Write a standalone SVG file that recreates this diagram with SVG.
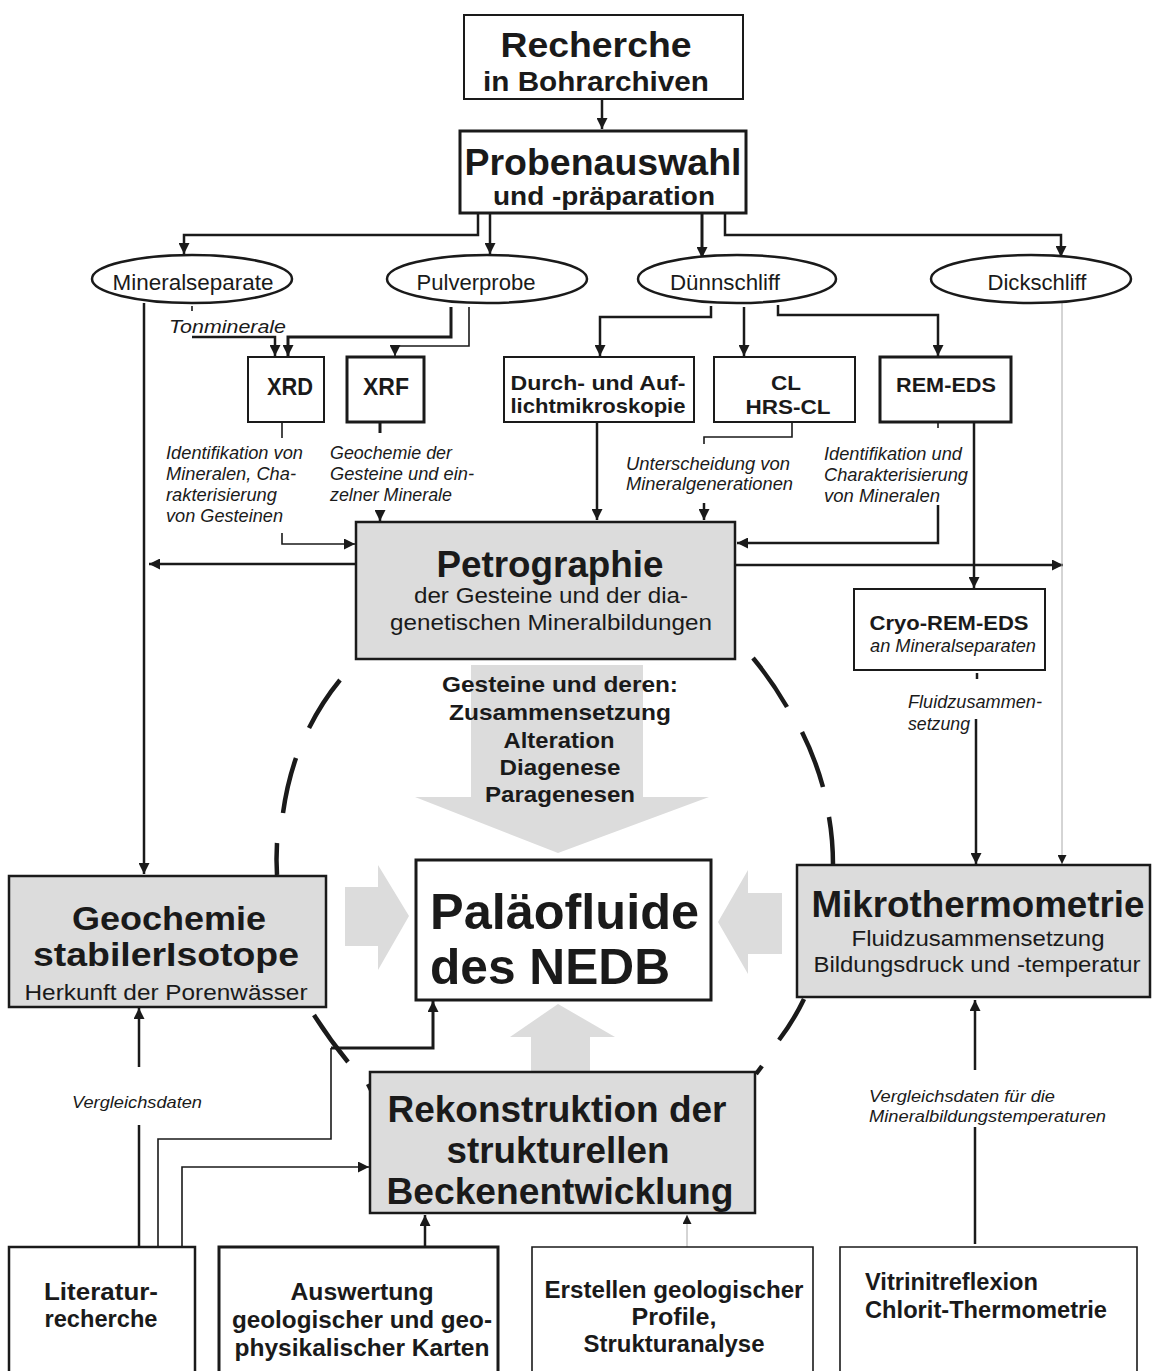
<svg xmlns="http://www.w3.org/2000/svg" width="1154" height="1371" viewBox="0 0 1154 1371">
<style>
text{font-family:"Liberation Sans",Arial,sans-serif;fill:#1a1a1a}
.b{font-weight:bold}
.i{font-style:italic}
.m{text-anchor:middle}
.box{fill:#fff;stroke:#1a1a1a;stroke-width:2}
.bx3{fill:#fff;stroke:#1a1a1a;stroke-width:3}
.gbox{fill:#dcdcdc;stroke:#1a1a1a;stroke-width:2.5}
.ell{fill:#fff;stroke:#1a1a1a;stroke-width:2.5}
.c{fill:none;stroke:#1a1a1a;stroke-width:2.5}
.c3{fill:none;stroke:#1a1a1a;stroke-width:3}
.cn{fill:none;stroke:#1a1a1a;stroke-width:1.6}
.t{fill:none;stroke:#aaa;stroke-width:1}
.dash{fill:none;stroke:#1a1a1a;stroke-width:4.5}
.ga{fill:#dcdcdc}
.n{font-size:18px;font-style:italic}
.bt{font-size:23px;font-weight:bold}
</style>
<defs>
<marker id="a" viewBox="0 0 10 10" refX="10" refY="5" markerWidth="11" markerHeight="11" markerUnits="userSpaceOnUse" orient="auto"><path d="M0,0 L10,5 L0,10 z" fill="#1a1a1a"/></marker>
<marker id="s" viewBox="0 0 10 10" refX="10" refY="5" markerWidth="9" markerHeight="9" markerUnits="userSpaceOnUse" orient="auto"><path d="M0,0 L10,5 L0,10 z" fill="#1a1a1a"/></marker>
</defs>
<rect width="1154" height="1371" fill="#fff"/>

<g id="grayarrows">
<path class="ga" d="M471,665 H643 V797 H709 L558,853 L415,797 H471 Z"/>
<path class="ga" d="M345,887 H378 V865 L409,916 L378,970 V946 H345 Z"/>
<path class="ga" d="M782,893 H748 V870 L718,922 L748,974 V954 H782 Z"/>
<path class="ga" d="M531,1072 V1037 H510 L558,1004 L615,1037 H590 V1072 Z"/>
</g>

<g id="dashedcircle">
<path class="dash" d="M340,680 Q322,702 309,728"/>
<path class="dash" d="M296,758 Q287,784 283,813"/>
<path class="dash" d="M277,843 Q276,860 277,875"/>
<path class="dash" d="M314,1015 Q330,1040 348,1062"/>
<path class="dash" d="M753,658 Q772,681 787,707"/>
<path class="dash" d="M802,732 Q815,758 823,787"/>
<path class="dash" d="M829,817 Q833,840 833,865"/>
<path class="dash" d="M804,999 Q794,1020 779,1040"/>
<path class="dash" d="M762,1066 L756,1074"/>
<path class="dash" d="M368,1084 L371,1090"/>
</g>

<g id="connectors">
<path class="c" d="M602,99 V129" marker-end="url(#a)"/>
<path class="c" d="M478,213 V235 H184 V254" marker-end="url(#a)"/>
<path class="c" d="M490,213 V254" marker-end="url(#a)"/>
<path class="c3" d="M702,213 V258" marker-end="url(#a)"/>
<path class="c" d="M725,213 V235 H1061 V257" marker-end="url(#a)"/>
<path class="c" d="M144,303 V874" marker-end="url(#a)"/>
<path class="cn" d="M192,306 V311"/>
<path class="c" d="M192,337 H275 V356" marker-end="url(#a)"/>
<path class="c3" d="M451,307 V337 H288 V356" marker-end="url(#a)"/>
<path class="cn" d="M469,307 V346 H395 V356" marker-end="url(#a)"/>
<path class="c" d="M711,306 V317 H600 V356" marker-end="url(#a)"/>
<path class="c" d="M744,307 V356" marker-end="url(#a)"/>
<path class="c" d="M778,305 V315 H938 V356" marker-end="url(#a)"/>
<path class="cn" d="M282,422 V438"/>
<path class="cn" d="M282,533 V544 H355" marker-end="url(#a)"/>
<path class="c3" d="M380,422 V433"/>
<path class="c" d="M380,510 V521" marker-end="url(#a)"/>
<path class="c" d="M597,422 V520" marker-end="url(#a)"/>
<path class="cn" d="M792,422 V437 H704 V444"/>
<path class="c" d="M704,503 V520" marker-end="url(#a)"/>
<path class="cn" d="M938,422 V428"/>
<path class="c" d="M938,505 V543 H737" marker-end="url(#a)"/>
<path class="c" d="M974,423 V588" marker-end="url(#a)"/>
<path class="c" d="M356,564 H149" marker-end="url(#a)"/>
<path class="c" d="M735,565 H1063" marker-end="url(#a)"/>
<path class="c" d="M977,673 V679"/>
<path class="c" d="M976,719 V864" marker-end="url(#a)"/>
<path class="t" d="M1062,303 V864" marker-end="url(#s)"/>
<path class="c" d="M139,1067 V1008" marker-end="url(#a)"/>
<path class="c" d="M139,1125 V1247"/>
<path class="cn" d="M158,1247 V1139 H331 V1048"/>
<path class="c3" d="M331,1048 H433 V1001" marker-end="url(#a)"/>
<path class="cn" d="M182,1247 V1167 H369" marker-end="url(#a)"/>
<path class="c" d="M425,1247 V1215" marker-end="url(#a)"/>
<path class="t" d="M687,1247 V1215" marker-end="url(#s)"/>
<path class="c" d="M975,1244 V1127"/>
<path class="c" d="M975,1070 V1000" marker-end="url(#a)"/>
</g>

<g id="recherche">
<rect class="box" x="464" y="15" width="279" height="84"/>
<text class="b m" x="596" y="57" font-size="35" textLength="191" lengthAdjust="spacingAndGlyphs">Recherche</text>
<text class="b m" x="596" y="91" font-size="27" textLength="226" lengthAdjust="spacingAndGlyphs">in Bohrarchiven</text>
</g>

<g id="probenauswahl">
<rect class="bx3" x="460" y="131" width="286" height="82"/>
<text class="b m" x="603" y="175" font-size="37" textLength="277" lengthAdjust="spacingAndGlyphs">Probenauswahl</text>
<text class="b m" x="604" y="205" font-size="26" textLength="222" lengthAdjust="spacingAndGlyphs">und -präparation</text>
</g>

<g id="mineralseparate">
<ellipse class="ell" cx="192" cy="279" rx="100" ry="24"/>
<text class="m" x="193" y="290" font-size="22" textLength="161" lengthAdjust="spacingAndGlyphs">Mineralseparate</text>
</g>
<g id="pulverprobe">
<ellipse class="ell" cx="487" cy="279" rx="100" ry="24"/>
<text class="m" x="476" y="290" font-size="22" textLength="119" lengthAdjust="spacingAndGlyphs">Pulverprobe</text>
</g>
<g id="duennschliff">
<ellipse class="ell" cx="737" cy="279" rx="99" ry="24"/>
<text class="m" x="725" y="290" font-size="22" textLength="110" lengthAdjust="spacingAndGlyphs">Dünnschliff</text>
</g>
<g id="dickschliff">
<ellipse class="ell" cx="1031" cy="279" rx="100" ry="24"/>
<text class="m" x="1037" y="290" font-size="22" textLength="99" lengthAdjust="spacingAndGlyphs">Dickschliff</text>
</g>

<g id="tonminerale">
<text class="i" x="169" y="333" font-size="19" textLength="117" lengthAdjust="spacingAndGlyphs">Tonminerale</text>
</g>

<g id="xrd">
<rect class="box" x="248" y="357" width="76" height="65"/>
<text class="b m" x="290" y="395" font-size="24" textLength="46" lengthAdjust="spacingAndGlyphs">XRD</text>
</g>
<g id="xrf">
<rect class="bx3" x="347" y="357" width="77" height="65"/>
<text class="b m" x="386" y="395" font-size="24" textLength="46" lengthAdjust="spacingAndGlyphs">XRF</text>
</g>
<g id="mikroskopie">
<rect class="box" x="504" y="357" width="190" height="65"/>
<text class="b m" x="598" y="390" font-size="20.5" textLength="175" lengthAdjust="spacingAndGlyphs">Durch- und Auf-</text>
<text class="b m" x="598" y="413" font-size="20.5" textLength="175" lengthAdjust="spacingAndGlyphs">lichtmikroskopie</text>
</g>
<g id="cl">
<rect class="box" x="714" y="357" width="141" height="65"/>
<text class="b m" x="786" y="390" font-size="20.5" textLength="30" lengthAdjust="spacingAndGlyphs">CL</text>
<text class="b m" x="788" y="414" font-size="20.5" textLength="85" lengthAdjust="spacingAndGlyphs">HRS-CL</text>
</g>
<g id="remeds">
<rect class="bx3" x="880" y="357" width="131" height="65"/>
<text class="b m" x="946" y="392" font-size="20.5" textLength="100" lengthAdjust="spacingAndGlyphs">REM-EDS</text>
</g>

<g id="labels-xrd">
<text class="n" x="166" y="459" textLength="137" lengthAdjust="spacingAndGlyphs">Identifikation von</text>
<text class="n" x="166" y="480" textLength="130" lengthAdjust="spacingAndGlyphs">Mineralen, Cha-</text>
<text class="n" x="166" y="501" textLength="111" lengthAdjust="spacingAndGlyphs">rakterisierung</text>
<text class="n" x="166" y="522" textLength="117" lengthAdjust="spacingAndGlyphs">von Gesteinen</text>
</g>
<g id="labels-xrf">
<text class="n" x="330" y="459" textLength="122" lengthAdjust="spacingAndGlyphs">Geochemie der</text>
<text class="n" x="330" y="480" textLength="144" lengthAdjust="spacingAndGlyphs">Gesteine und ein-</text>
<text class="n" x="330" y="501" textLength="122" lengthAdjust="spacingAndGlyphs">zelner Minerale</text>
</g>
<g id="labels-cl">
<text class="n" x="626" y="470" textLength="164" lengthAdjust="spacingAndGlyphs">Unterscheidung von</text>
<text class="n" x="626" y="490" textLength="167" lengthAdjust="spacingAndGlyphs">Mineralgenerationen</text>
</g>
<g id="labels-rem">
<text class="n" x="824" y="460" textLength="138" lengthAdjust="spacingAndGlyphs">Identifikation und</text>
<text class="n" x="824" y="481" textLength="144" lengthAdjust="spacingAndGlyphs">Charakterisierung</text>
<text class="n" x="824" y="502" textLength="116" lengthAdjust="spacingAndGlyphs">von Mineralen</text>
</g>

<g id="petrographie">
<rect class="gbox" x="356" y="522" width="379" height="137"/>
<text class="b m" x="550" y="577" font-size="36" textLength="227" lengthAdjust="spacingAndGlyphs">Petrographie</text>
<text class="m" x="551" y="603" font-size="22.5" textLength="274" lengthAdjust="spacingAndGlyphs">der Gesteine und der dia-</text>
<text class="m" x="551" y="630" font-size="22.5" textLength="322" lengthAdjust="spacingAndGlyphs">genetischen Mineralbildungen</text>
</g>

<g id="cryo">
<rect class="box" x="854" y="589" width="191" height="81"/>
<text class="b m" x="949" y="630" font-size="20.5" textLength="159" lengthAdjust="spacingAndGlyphs">Cryo-REM-EDS</text>
<text class="i m" x="953" y="652" font-size="18.5" textLength="166" lengthAdjust="spacingAndGlyphs">an Mineralseparaten</text>
</g>
<g id="labels-cryo">
<text class="n" x="908" y="708" textLength="134" lengthAdjust="spacingAndGlyphs">Fluidzusammen-</text>
<text class="n" x="908" y="730" textLength="62" lengthAdjust="spacingAndGlyphs">setzung</text>
</g>

<g id="gesteine-label">
<text class="b m" x="560" y="692" font-size="22.5" textLength="236" lengthAdjust="spacingAndGlyphs">Gesteine und deren:</text>
<text class="b m" x="560" y="720" font-size="22.5" textLength="222" lengthAdjust="spacingAndGlyphs">Zusammensetzung</text>
<text class="b m" x="559" y="748" font-size="22.5" textLength="111" lengthAdjust="spacingAndGlyphs">Alteration</text>
<text class="b m" x="560" y="775" font-size="22.5" textLength="121" lengthAdjust="spacingAndGlyphs">Diagenese</text>
<text class="b m" x="560" y="802" font-size="22.5" textLength="150" lengthAdjust="spacingAndGlyphs">Paragenesen</text>
</g>

<g id="palaeofluide">
<rect class="bx3" x="416" y="860" width="295" height="140"/>
<text class="b" x="430" y="929" font-size="50" textLength="269" lengthAdjust="spacingAndGlyphs">Paläofluide</text>
<text class="b" x="430" y="984" font-size="50" textLength="240" lengthAdjust="spacingAndGlyphs">des NEDB</text>
</g>

<g id="geochemie">
<rect class="gbox" x="9" y="876" width="317" height="131"/>
<text class="b m" x="169" y="930" font-size="34" textLength="194" lengthAdjust="spacingAndGlyphs">Geochemie</text>
<text class="b m" x="166" y="966" font-size="34" textLength="266" lengthAdjust="spacingAndGlyphs">stabilerIsotope</text>
<text class="m" x="166" y="1000" font-size="21.5" textLength="283" lengthAdjust="spacingAndGlyphs">Herkunft der Porenwässer</text>
</g>

<g id="mikrothermometrie">
<rect class="gbox" x="797" y="865" width="353" height="132"/>
<text class="b m" x="978" y="917" font-size="36" textLength="333" lengthAdjust="spacingAndGlyphs">Mikrothermometrie</text>
<text class="m" x="978" y="946" font-size="21.5" textLength="253" lengthAdjust="spacingAndGlyphs">Fluidzusammensetzung</text>
<text class="m" x="977" y="972" font-size="21.5" textLength="327" lengthAdjust="spacingAndGlyphs">Bildungsdruck und -temperatur</text>
</g>

<g id="labels-vergleich">
<text class="i" font-size="16.5" x="72" y="1108" textLength="130" lengthAdjust="spacingAndGlyphs">Vergleichsdaten</text>
<text class="i" font-size="16.5" x="869" y="1102" textLength="186" lengthAdjust="spacingAndGlyphs">Vergleichsdaten für die</text>
<text class="i" font-size="16.5" x="869" y="1122" textLength="237" lengthAdjust="spacingAndGlyphs">Mineralbildungstemperaturen</text>
</g>

<g id="rekonstruktion">
<rect class="gbox" x="370" y="1072" width="385" height="141"/>
<text class="b m" x="557" y="1122" font-size="36" textLength="339" lengthAdjust="spacingAndGlyphs">Rekonstruktion der</text>
<text class="b m" x="558" y="1163" font-size="36" textLength="223" lengthAdjust="spacingAndGlyphs">strukturellen</text>
<text class="b m" x="560" y="1204" font-size="36" textLength="347" lengthAdjust="spacingAndGlyphs">Beckenentwicklung</text>
</g>

<g id="literatur">
<path class="c" d="M9,1371 V1247 H195 V1371"/>
<text class="bt m" x="101" y="1300" textLength="114" lengthAdjust="spacingAndGlyphs">Literatur-</text>
<text class="bt m" x="101" y="1327" textLength="113" lengthAdjust="spacingAndGlyphs">recherche</text>
</g>
<g id="auswertung">
<path class="c3" d="M219,1371 V1247 H498 V1371"/>
<text class="bt m" x="362" y="1300" textLength="143" lengthAdjust="spacingAndGlyphs">Auswertung</text>
<text class="bt m" x="362" y="1328" textLength="260" lengthAdjust="spacingAndGlyphs">geologischer und geo-</text>
<text class="bt m" x="362" y="1356" textLength="255" lengthAdjust="spacingAndGlyphs">physikalischer Karten</text>
</g>
<g id="erstellen">
<path class="cn" d="M532,1371 V1247 H813 V1371"/>
<text class="bt m" x="674" y="1298" textLength="259" lengthAdjust="spacingAndGlyphs">Erstellen geologischer</text>
<text class="bt m" x="674" y="1325" textLength="85" lengthAdjust="spacingAndGlyphs">Profile,</text>
<text class="bt m" x="674" y="1352" textLength="181" lengthAdjust="spacingAndGlyphs">Strukturanalyse</text>
</g>
<g id="vitrinit">
<path class="cn" d="M840,1371 V1247 H1137 V1371"/>
<text class="bt" x="865" y="1290" textLength="173" lengthAdjust="spacingAndGlyphs">Vitrinitreflexion</text>
<text class="bt" x="865" y="1318" textLength="242" lengthAdjust="spacingAndGlyphs">Chlorit-Thermometrie</text>
</g>
</svg>
